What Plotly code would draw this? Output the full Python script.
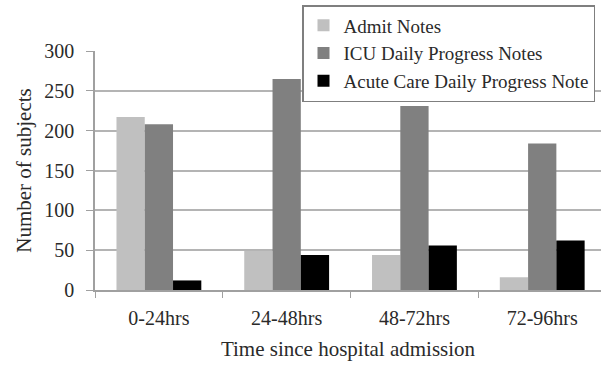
import plotly.graph_objects as go

categories = ["0-24hrs", "24-48hrs", "48-72hrs", "72-96hrs"]
admit_notes = [217, 49, 44, 16]
icu_notes = [208, 265, 231, 184]
acute_notes = [12, 44, 56, 62]
series_names = ["Admit Notes", "ICU Daily Progress Notes", "Acute Care Daily Progress Note"]
y_ticks = [0, 50, 100, 150, 200, 250, 300]

colors = ["#c0c0c0", "#808080", "#000000"]
FONT = "Liberation Serif"
TXT = "#2a2a2a"

fig = go.Figure()
for name, vals, col in zip(series_names, [admit_notes, icu_notes, acute_notes], colors):
    fig.add_trace(go.Bar(x=categories, y=vals, name=name, marker=dict(color=col, line=dict(width=0))))

W, H = 601, 366
ml, mr, mt, mb = 95, 0, 51, 76
pw = W - ml - mr
ph = H - mt - mb

fig.update_layout(
    width=W, height=H,
    margin=dict(l=ml, r=mr, t=mt, b=mb),
    paper_bgcolor="white", plot_bgcolor="white",
    barmode="group", bargap=0.336, bargroupgap=0,
    font=dict(family=FONT, size=20, color=TXT),
    showlegend=True,
    legend=dict(
        x=(302 - ml) / pw, xanchor="left",
        y=1 + (mt - 5) / ph, yanchor="top",
        bgcolor="white", bordercolor="#7f7f7f", borderwidth=1.5,
        font=dict(family=FONT, size=19, color=TXT),
        tracegroupgap=0, itemsizing="constant", itemwidth=30,
    ),
    xaxis=dict(
        range=[-0.5, 3.46],
        showline=True, linecolor="#a0a0a0", linewidth=1.5,
        ticks="outside", tickcolor="#a0a0a0", ticklen=6, tickson="boundaries",
        ticklabelstandoff=9,
        showgrid=False,
        title=dict(text="Time since hospital admission", standoff=14, font=dict(size=21)),
        tickfont=dict(size=20),
    ),
    yaxis=dict(
        range=[0, 300], tickvals=y_ticks,
        showline=True, linecolor="#a0a0a0", linewidth=1.5,
        ticks="outside", tickcolor="#a0a0a0", ticklen=7,
        ticklabelstandoff=8,
        showgrid=True, gridcolor="#b4b4b4", gridwidth=1.5,
        zeroline=False,
        title=dict(text="Number of subjects", standoff=7, font=dict(size=21)),
        tickfont=dict(size=20),
    ),
)

fig.write_html("out.html", config={"displayModeBar": False},
               post_script="document.body.style.margin='0';")
